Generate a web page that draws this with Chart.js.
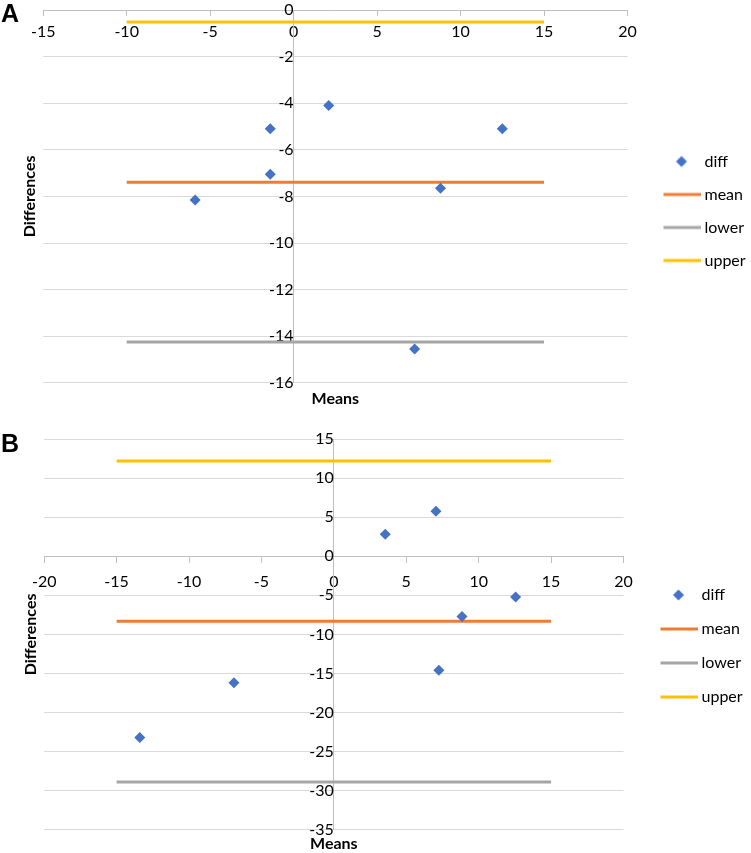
<!DOCTYPE html>
<html>
<head>
<meta charset="utf-8">
<title>Bland-Altman plots A and B</title>
<script src="https://cdn.jsdelivr.net/npm/chart.js@4.4.0/dist/chart.umd.min.js"></script>
<style>
  body { margin: 0; background: #fff; }
  #page { position: relative; width: 751px; height: 853px; overflow: hidden; }
  .panel { position: absolute; left: 0; }
  .tag { position: absolute; left: 1px; font: bold 25px "Liberation Sans", Arial, sans-serif; line-height: 25px; }
</style>
</head>
<body>
<div id="page">
  <canvas id="chartA" class="panel" width="751" height="412" style="top:0"></canvas>
  <canvas id="chartB" class="panel" width="751" height="441" style="top:412px"></canvas>
  <div class="tag" style="top:1px">A</div>
  <div class="tag" style="top:431px">B</div>
</div>
<script>
// series shared by both panels
const seriesNames = ['diff', 'mean', 'lower', 'upper'];
const seriesColors = ['#4472C4', '#ED7D31', '#A5A5A5', '#FFC000'];

// panel A
const meansA = [2.1, -1.4, -1.4, -5.9, 12.5, 8.8, 7.25];
const diffsA = [-4.1, -5.1, -7.05, -8.15, -5.1, -7.65, -14.55];
const meanA = -7.39;
const lowerA = -14.25;
const upperA = -0.52;
const spanA = [-10, 15];      // extent of the mean / limit lines
const xLimitsA = [-15, 20];
const yLimitsA = [-16, 0];
const yStepA = 2;

// panel B
const meansB = [3.55, 7.05, 8.85, 12.55, 7.25, -6.9, -13.4];
const diffsB = [2.8, 5.75, -7.7, -5.2, -14.6, -16.2, -23.2];
const meanB = -8.31;
const lowerB = -28.9;
const upperB = 12.19;
const spanB = [-15, 15];
const xLimitsB = [-20, 20];
const yLimitsB = [-35, 15];
const yStepB = 5;

const xStep = 5;

Chart.defaults.font.family = 'Lato, "Open Sans", sans-serif';
Chart.defaults.font.size = 16;
Chart.defaults.color = '#000';

// legend symbols as small images (diamond marker / short line)
function legendSymbol(k) {
  const c = document.createElement('canvas');
  c.width = 60;
  c.height = 12;
  const g = c.getContext('2d');
  g.fillStyle = seriesColors[k];
  if (k === 0) {
    g.beginPath();
    g.moveTo(41, 0.5);
    g.lineTo(46.5, 6);
    g.lineTo(41, 11.5);
    g.lineTo(35.5, 6);
    g.closePath();
    g.fill();
  } else {
    g.fillRect(23, 4.5, 37, 3);
  }
  return c;
}
const symbols = seriesNames.map((n, k) => legendSymbol(k));

function flatLine(span, value) {
  return span.map(x => ({ x: x, y: value }));
}

function blandAltman(id, d) {
  const points = d.means.map((m, i) => ({ x: m, y: d.diffs[i] }));

  const lineSet = (k, value) => ({
    label: seriesNames[k],
    data: flatLine(d.span, value),
    showLine: true,
    borderColor: seriesColors[k],
    backgroundColor: seriesColors[k],
    borderWidth: 3,
    pointRadius: 0,
    pointHoverRadius: 0,
    order: 1,
    xAxisID: 'x',
    yAxisID: 'y'
  });

  const titleFont = { size: 16, weight: 'bold' };

  return new Chart(document.getElementById(id), {
    type: 'scatter',
    data: {
      datasets: [
        {
          label: seriesNames[0],
          data: points,
          pointStyle: 'rectRot',
          pointRadius: 5.5,
          pointHoverRadius: 5.5,
          backgroundColor: seriesColors[0],
          borderColor: seriesColors[0],
          borderWidth: 0,
          order: 0,
          xAxisID: 'x',
          yAxisID: 'y'
        },
        lineSet(1, d.mean),
        lineSet(2, d.lower),
        lineSet(3, d.upper)
      ]
    },
    options: {
      responsive: false,
      animation: false,
      devicePixelRatio: 1,
      layout: { padding: d.padding },
      plugins: {
        tooltip: { enabled: false },
        legend: {
          position: 'right',
          align: 'center',
          labels: {
            usePointStyle: true,
            pointStyleWidth: 52,
            padding: d.legendGap,
            font: { size: 16 },
            generateLabels: (chart) => {
              const items = Chart.defaults.plugins.legend.labels.generateLabels(chart);
              items.forEach(it => { it.pointStyle = symbols[it.datasetIndex]; });
              return items;
            }
          }
        }
      },
      scales: {
        x: {
          type: 'linear',
          position: { y: 0 },
          min: d.xLimits[0],
          max: d.xLimits[1],
          ticks: { stepSize: xStep, padding: d.xTickPad, font: { size: 16 } },
          grid: { drawOnChartArea: false, tickLength: d.xTickLen, color: '#bfbfbf' },
          border: { color: '#bfbfbf' }
        },
        y: {
          type: 'linear',
          position: { x: 0 },
          min: d.yLimits[0],
          max: d.yLimits[1],
          ticks: { stepSize: d.yStep, padding: 0, font: { size: 16 } },
          grid: { color: '#d9d9d9', drawTicks: true, tickLength: 18 },
          border: { color: '#bfbfbf' }
        },
        // axis titles sit on the outer edges, not on the crossing axes
        xTitle: {
          type: 'linear',
          axis: 'x',
          position: 'bottom',
          min: 0,
          max: 1,
          ticks: { display: false },
          grid: { display: false, drawTicks: false },
          border: { display: false },
          title: { display: true, text: 'Means', font: titleFont, padding: d.meansPad }
        },
        yTitle: {
          type: 'linear',
          axis: 'y',
          position: 'left',
          min: 0,
          max: 1,
          ticks: { display: false },
          grid: { display: false, drawTicks: false },
          border: { display: false },
          title: { display: true, text: 'Differences', font: titleFont, padding: { top: 20, bottom: 4 } }
        }
      }
    }
  });
}

blandAltman('chartA', {
  means: meansA, diffs: diffsA, mean: meanA, lower: lowerA, upper: upperA,
  span: spanA, xLimits: xLimitsA, yLimits: yLimitsA, yStep: yStepA,
  xTickPad: 7, xTickLen: 5, legendGap: 17,
  meansPad: { top: 6, bottom: 4 },
  padding: { left: 0, top: 10, right: -2, bottom: 0 }
});

blandAltman('chartB', {
  means: meansB, diffs: diffsB, mean: meanB, lower: lowerB, upper: upperB,
  span: spanB, xLimits: xLimitsB, yLimits: yLimitsB, yStep: yStepB,
  xTickPad: 10, xTickLen: 6, legendGap: 18,
  meansPad: { top: 4, bottom: 0 },
  padding: { left: 1, top: 27, right: 3, bottom: 0 }
});
</script>
</body>
</html>
